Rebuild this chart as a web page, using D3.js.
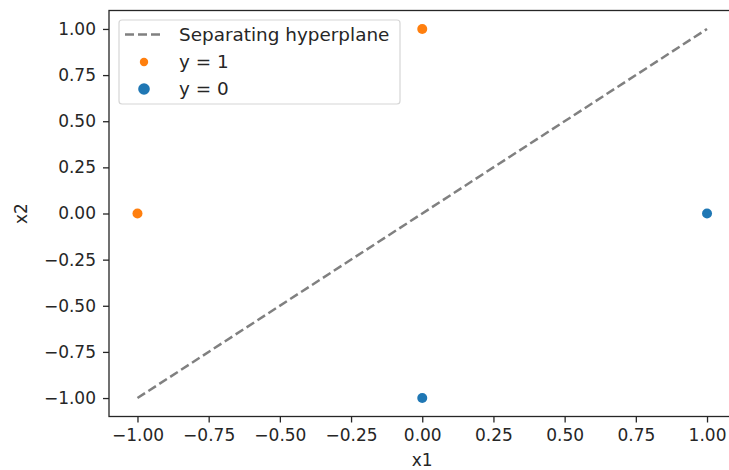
<!DOCTYPE html>
<html><head><meta charset="utf-8">
<script src="https://cdn.jsdelivr.net/npm/d3@7"></script>
<style>body{margin:0;background:#fff}svg{display:block}text{font-family:"DejaVu Sans",sans-serif}</style>
</head><body>
<svg id="c" width="729" height="470"></svg>
<script>
const lineX = [-1, 1];
const lineY = [-1, 1];
const pos = [{x: -1, y: 0}, {x: 0, y: 1}];   // y = 1
const neg = [{x: 1, y: 0}, {x: 0, y: -1}];   // y = 0
const ticks = [-1, -0.75, -0.5, -0.25, 0, 0.25, 0.5, 0.75, 1];
const legendLabels = ["Separating hyperplane", "y = 1", "y = 0"];

const svg = d3.select("#c");
const L = 109, R = 735.5, T = 10.5, B = 416.5;
const x = d3.scaleLinear().domain([-1.1, 1.1]).range([L, R]);
const y = d3.scaleLinear().domain([-1.1, 1.1]).range([B, T]);
const fs = 17;
const lfs = 18.4;
const fmt = d => d3.format(".2f")(d).replace("-", "\u2212");

const xa = svg.append("g").attr("transform", `translate(0,${B})`)
  .call(d3.axisBottom(x).tickValues(ticks).tickFormat(fmt).tickSize(6).tickPadding(6).tickSizeOuter(0));
const ya = svg.append("g").attr("transform", `translate(${L},0)`)
  .call(d3.axisLeft(y).tickValues(ticks).tickFormat(fmt).tickSize(6).tickPadding(7).tickSizeOuter(0));
[xa, ya].forEach(g => {
  g.selectAll("text").attr("font-size", fs).attr("fill", "#262626").attr("font-family", "DejaVu Sans");
  g.selectAll("line").attr("stroke", "#262626").attr("stroke-width", 1.3);
  g.select(".domain").remove();
});

// spines
svg.append("rect").attr("x", L).attr("y", T).attr("width", R - L).attr("height", B - T)
  .attr("fill", "none").attr("stroke", "#262626").attr("stroke-width", 1.3);

svg.append("path")
  .attr("d", d3.line().x(d => x(d[0])).y(d => y(d[1]))(lineX.map((v, i) => [v, lineY[i]])))
  .attr("stroke", "#808080").attr("stroke-width", 2.5).attr("fill", "none")
  .attr("stroke-dasharray", "9,4");

svg.selectAll(".p").data(pos).join("circle").attr("cx", d => x(d.x)).attr("cy", d => y(d.y))
  .attr("r", 5).attr("fill", "#ff7f0e");
svg.selectAll(".n").data(neg).join("circle").attr("cx", d => x(d.x)).attr("cy", d => y(d.y))
  .attr("r", 5).attr("fill", "#1f77b4");

// axis labels
svg.append("text").attr("x", x(0)).attr("y", 466).attr("text-anchor", "middle")
  .attr("font-size", fs).attr("fill", "#262626").text("x1");
svg.append("text").attr("transform", `translate(27,${y(0)}) rotate(-90)`).attr("text-anchor", "middle")
  .attr("font-size", fs).attr("fill", "#262626").text("x2");

// legend
const lg = svg.append("g");
lg.append("rect").attr("x", 119).attr("y", 20).attr("width", 281).attr("height", 84).attr("rx", 3)
  .attr("fill", "#fff").attr("fill-opacity", 0.8).attr("stroke", "#d6d6d6").attr("stroke-width", 1.2);
lg.append("line").attr("x1", 125).attr("x2", 163).attr("y1", 34.5).attr("y2", 34.5)
  .attr("stroke", "#808080").attr("stroke-width", 2.5).attr("stroke-dasharray", "9,4");
lg.append("circle").attr("cx", 144).attr("cy", 62).attr("r", 4.2).attr("fill", "#ff7f0e");
lg.append("circle").attr("cx", 144).attr("cy", 89).attr("r", 5.8).attr("fill", "#1f77b4");
[34.5, 62, 89].forEach((cy, i) => {
  lg.append("text").attr("x", 179).attr("y", cy).attr("dy", "0.35em").attr("font-size", lfs)
    .attr("fill", "#262626").text(legendLabels[i]);
});
</script>
</body></html>
